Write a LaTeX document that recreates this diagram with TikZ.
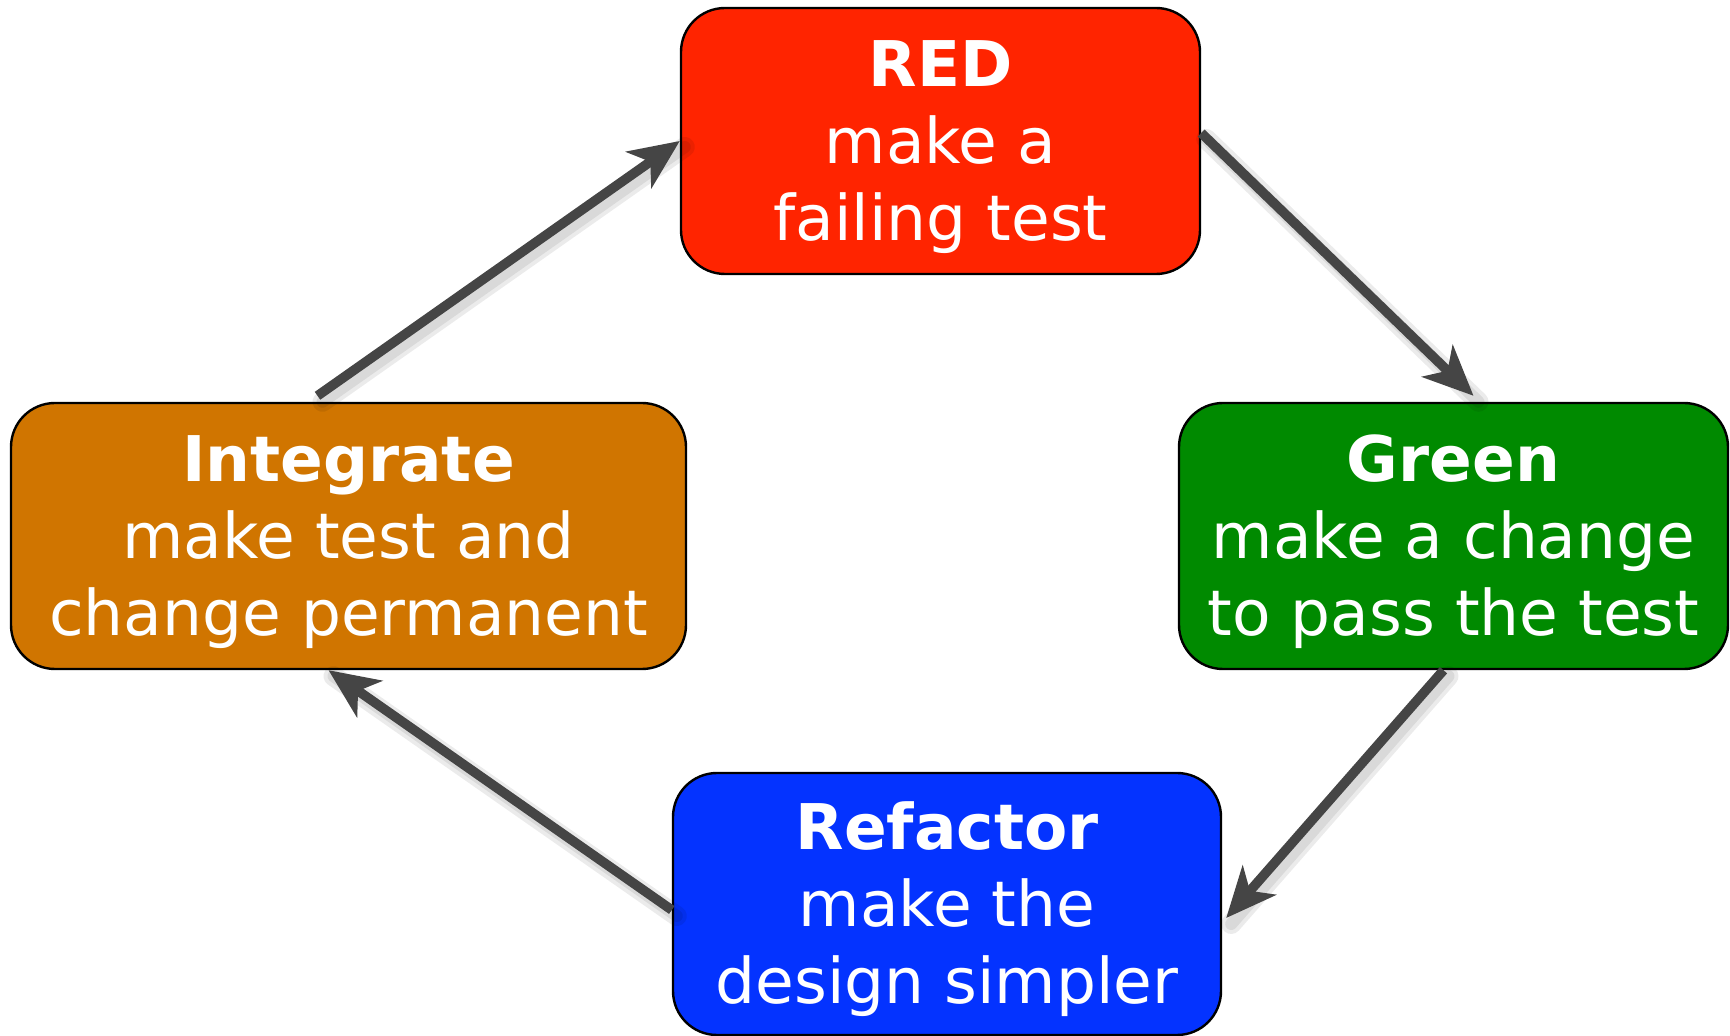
\documentclass[tikz,border=0pt]{standalone}
\usepackage{fontspec}
\setmainfont{DejaVu Sans}
\usetikzlibrary{arrows.meta,calc}
\definecolor{tddred}{RGB}{255,36,0}
\definecolor{tddgreen}{RGB}{0,138,0}
\definecolor{tddorange}{RGB}{208,117,0}
\definecolor{tddblue}{RGB}{4,51,255}
\definecolor{arrgray}{RGB}{69,69,69}
\newcommand{\ttl}[1]{\rule{0pt}{29pt}\textbf{#1}}
\begin{document}
\begin{tikzpicture}[x=0.5pt,y=-0.5pt,
  phase/.style={draw=black, line width=1.2pt, rounded corners=22pt, text=white,
    align=center, inner sep=0pt, minimum height=133pt,
    font=\fontsize{31.5}{38.5}\selectfont},
  arrow/.style={draw=arrgray, line width=4.8pt,
    -{Stealth[length=25pt,width=22pt,inset=7pt]}},
  arrshadow/.style={draw=black, opacity=0.08, line width=10pt, line cap=round},
  arrshadowin/.style={draw=black, opacity=0.08, line width=6pt, line cap=round}]
\useasboundingbox (0,0) rectangle (1730,1036);

\node[phase, fill=tddred, minimum width=259.5pt] (red) at (940.5,141)
  {\ttl{RED}\\make a\\failing test};
\node[phase, fill=tddorange, minimum width=337.5pt] (int) at (348.5,536)
  {\ttl{Integrate}\\make test and\\change permanent};
\node[phase, fill=tddgreen, minimum width=274.5pt] (green) at (1453.5,536)
  {\ttl{Green}\\make a change\\to pass the test};
\node[phase, fill=tddblue, minimum width=274pt, minimum height=131pt] (ref) at (947,904)
  {\ttl{Refactor}\\make the\\design simpler};

\coordinate (a1s) at ([xshift=-15.5pt,yshift=3pt]int.north);
\coordinate (a1e) at (red.west);
\coordinate (a2s) at ([yshift=4pt]red.east);
\coordinate (a2e) at ([xshift=10pt,yshift=3pt]green.north);
\coordinate (a3s) at ([xshift=-5pt]green.south);
\coordinate (a3e) at ([xshift=2pt,yshift=-7pt]ref.east);
\coordinate (a4s) at ([yshift=-3pt]ref.west);
\coordinate (a4e) at ([xshift=-10pt]int.south);

\foreach \s/\e in {a1s/a1e,a2s/a2e,a3s/a3e,a4s/a4e}{
  \draw[arrshadow] ([shift={(2.5pt,-3pt)}]\s) -- ([shift={(2.5pt,-3pt)}]\e);
  \draw[arrshadowin] ([shift={(2.5pt,-3pt)}]\s) -- ([shift={(2.5pt,-3pt)}]\e);
}
\draw[arrow] (a1s) -- (a1e);
\draw[arrow] (a2s) -- (a2e);
\draw[arrow] (a3s) -- (a3e);
\draw[arrow] (a4s) -- (a4e);
\end{tikzpicture}
\end{document}
